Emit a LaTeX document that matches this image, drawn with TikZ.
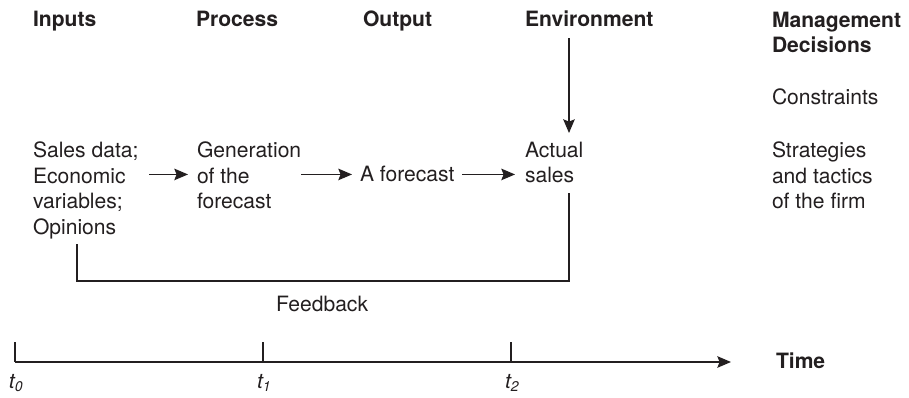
\documentclass[tikz,border=0pt]{standalone}
\usepackage{fontspec}
\setmainfont{TeX Gyre Heros}
\usepackage{tikz}
\usetikzlibrary{arrows.meta, positioning, calc}
\definecolor{ink}{HTML}{231F20}

\begin{document}
\begin{tikzpicture}[x=0.02cm, y=-0.02cm,
    every node/.style={inner sep=0pt, outer sep=0pt, text=ink, font=\fontsize{12}{14.5}\selectfont},
    head/.style={font=\fontsize{12}{14.5}\selectfont\bfseries, anchor=base west},
    item/.style={align=left, anchor=north west},
    arrow/.style={-{Stealth[length=7.8pt, width=6.6pt, inset=1.3pt]}, line width=0.7pt, draw=ink},
    wire/.style={line width=0.7pt, draw=ink},
]
  \useasboundingbox (0,0) rectangle (909,398);

  % column headings
  \node[head] (hin) at (33,27) {Inputs};
  \node[head] (hproc) at (196,27) {Process};
  \node[head] (hout) at (363,27) {Output};
  \node[head] (henv) at (525,27) {Environment};
  \node[head, align=left, anchor=north west] (hman) at (772,12) {Management\\Decisions};

  % main row
  \node[item] (inputs) at (33,142) {Sales data;\\Economic\\variables;\\Opinions};
  \node[item] (process) at (197,142) {Generation\\of the\\forecast};
  \node[anchor=base west] (forecast) at (360,182) {A forecast};
  \node[item] (sales) at (525,142) {Actual\\sales};

  % management column
  \node[anchor=base west] (constr) at (772,105) {Constraints};
  \node[item] (strat) at (772,142) {Strategies\\and tactics\\of the firm};

  \draw[arrow, shorten <=0.22cm, shorten >=0.18cm] (inputs.east |- forecast) -- (process.west |- forecast);
  \draw[arrow, shorten >=0.16cm] (process.east |- forecast) -- (forecast.west);
  \draw[arrow, shorten <=0.16cm, shorten >=0.2cm] (forecast.east) -- (sales.west |- forecast);

  % environment acts on actual sales
  \coordinate (fx) at (569,0);
  \draw[arrow, shorten <=0.22cm, shorten >=0.18cm] (henv.south -| fx) -- (sales.north -| fx);

  % feedback loop
  \coordinate (fbl) at (77,281);
  \coordinate (fbr) at (569,281);
  \draw[wire, shorten <=0.11cm, shorten >=0.2cm] (inputs.south -| fbl) -- (fbl) -- (fbr) -- (sales.south -| fbr);
  \node[anchor=base west] (fb) at (276,312) {Feedback};

  % time axis
  \coordinate (t0) at (15,362);
  \coordinate (t1) at (263,362);
  \coordinate (t2) at (511,362);
  \coordinate (tend) at (731,362);
  \draw[arrow] (t0) -- (tend);
  \foreach \t in {t0,t1,t2}
    \draw[wire] (\t) -- ++(0,-20);
  \node[anchor=base west] (l0) at (9,388) {\itshape t\textsubscript{\itshape 0}};
  \node[anchor=base west] (l1) at (257,388) {\itshape t\textsubscript{\itshape 1}};
  \node[anchor=base west] (l2) at (505,388) {\itshape t\textsubscript{\itshape 2}};
  \node[head] (time) at (776,369) {Time};
\end{tikzpicture}
\end{document}
